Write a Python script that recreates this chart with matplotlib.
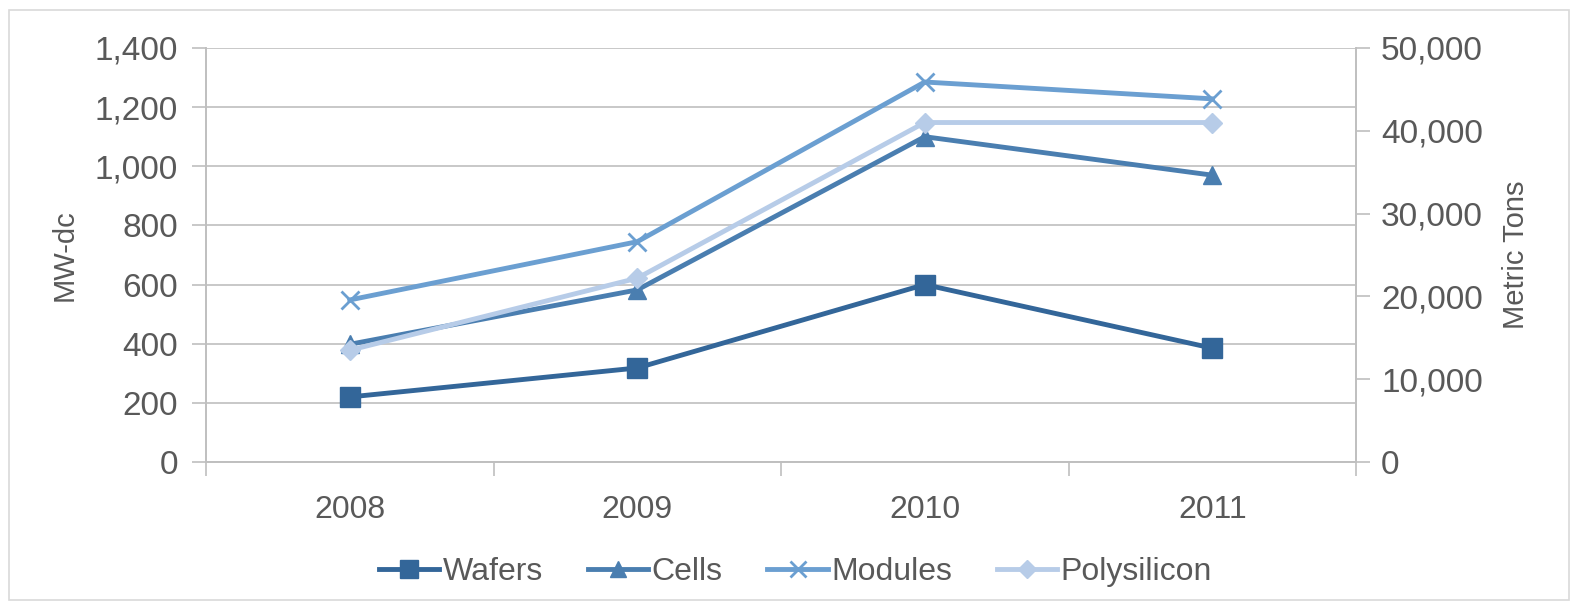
import matplotlib
matplotlib.use('Agg')
import matplotlib.pyplot as plt
from matplotlib.patches import Rectangle
from matplotlib.ticker import FuncFormatter

years = ['2008', '2009', '2010', '2011']
wafers = [220, 318, 600, 385]
cells = [398, 582, 1100, 970]
modules = [548, 745, 1285, 1228]
polysilicon = [13500, 22200, 41000, 41000]  # metric tons, right axis

plt.rcParams['font.family'] = ['Liberation Sans', 'DejaVu Sans']
txt = '#595959'
grid = '#BFBFBF'

fig = plt.figure(figsize=(15.75, 6.03), dpi=100)
fig.patches.append(Rectangle((0.006, 0.005), 0.99, 0.978, transform=fig.transFigure,
                             fill=False, edgecolor='#D9D9D9', lw=1.2))
ax = fig.add_axes([206 / 1575, 1 - 462 / 603, 1150 / 1575, 414 / 603])
ax2 = ax.twinx()

x = range(len(years))
l1, = ax.plot(x, wafers, color='#336699', lw=3.5, marker='s', ms=14, label='Wafers')
l2, = ax.plot(x, cells, color='#4A7EB0', lw=3.5, marker='^', ms=13, label='Cells')
l3, = ax.plot(x, modules, color='#6B9FD1', lw=3.5, marker='x', ms=13, mew=2, label='Modules')
l4, = ax2.plot(x, polysilicon, color='#B7CCE8', lw=3.5, marker='D', ms=10, label='Polysilicon')

ax.set_xlim(-0.5, 3.5)
ax.set_ylim(0, 1400)
ax2.set_ylim(0, 50000)
ax.set_yticks(range(0, 1401, 200))
ax2.set_yticks(range(0, 50001, 10000))
ax.set_xticks([-0.5, 0.5, 1.5, 2.5, 3.5], minor=False)
ax.set_xticklabels([])
ax.set_xticks(list(x), minor=True)
ax.set_xticklabels(years, minor=True)
ax.tick_params(axis='x', which='minor', length=0, pad=24, labelsize=23, labelcolor=txt)
ax.tick_params(axis='x', which='major', length=10, direction='out', color=grid, width=1.2)

fmt = FuncFormatter(lambda v, p: '{:,.0f}'.format(v))
ax.yaxis.set_major_formatter(fmt)
ax2.yaxis.set_major_formatter(fmt)
ax.tick_params(axis='y', length=10, color=grid, width=1.2, labelsize=24, labelcolor=txt, pad=10)
ax2.tick_params(axis='y', length=10, color=grid, width=1.2, labelsize=24, labelcolor=txt, pad=8)

ax.grid(axis='y', color=grid, lw=1.2)
ax.set_axisbelow(True)
for a in (ax, ax2):
    a.spines['top'].set_visible(False)
    for s in ('left', 'right', 'bottom'):
        a.spines[s].set_color(grid)
        a.spines[s].set_linewidth(1.2)

ax.set_ylabel('MW-dc', fontsize=21, color=txt, labelpad=12)
ax2.set_ylabel('Metric Tons', fontsize=21, color=txt, labelpad=14)

fig.legend(handles=[l1, l2, l3, l4], loc='center', bbox_to_anchor=(0.505, 1 - 572 / 603),
           ncol=4, frameon=False, fontsize=23, labelcolor=txt, handlelength=1.9,
           handletextpad=0.1, columnspacing=1.4, markerscale=0.9)

plt.savefig('out.png', dpi=100)
